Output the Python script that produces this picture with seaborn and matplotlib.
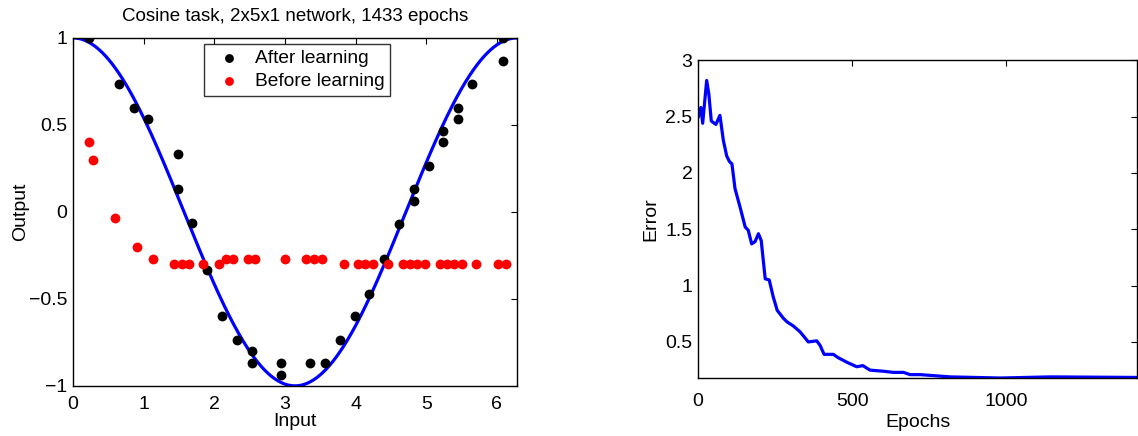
import numpy as np
import pandas as pd
import matplotlib
matplotlib.use("Agg")
import matplotlib.pyplot as plt
import seaborn as sns

# ---------------- data ----------------
after_x = [0.23, 0.65, 0.86, 1.06, 1.48, 1.48, 1.69, 1.89, 2.11, 2.32, 2.53, 2.53,
           2.95, 2.95, 3.36, 3.57, 3.78, 3.99, 4.19, 4.40, 4.61, 4.82, 4.82, 5.04,
           5.24, 5.24, 5.45, 5.45, 5.65, 6.08, 6.08]
after_y = [1.00, 0.734, 0.60, 0.533, 0.333, 0.132, -0.065, -0.333, -0.60, -0.736, -0.80, -0.87,
           -0.87, -0.935, -0.87, -0.87, -0.736, -0.60, -0.47, -0.268, -0.067, 0.132, 0.065, 0.266,
           0.466, 0.40, 0.60, 0.533, 0.736, 1.00, 0.868]

before_x = [0.23, 0.28, 0.60, 0.91, 1.13, 1.43, 1.54, 1.64, 1.84, 2.06, 2.16, 2.27,
            2.47, 2.58, 3.00, 3.30, 3.41, 3.52, 3.83, 4.04, 4.14, 4.25, 4.46, 4.67,
            4.77, 4.87, 4.98, 5.19, 5.29, 5.40, 5.50, 5.71, 6.01, 6.13]
before_y = [0.40, 0.30, -0.033, -0.20, -0.268, -0.30, -0.30, -0.30, -0.30, -0.30, -0.268, -0.268,
            -0.268, -0.268, -0.268, -0.268, -0.268, -0.268, -0.30, -0.30, -0.30, -0.30, -0.30, -0.30,
            -0.30, -0.30, -0.30, -0.30, -0.30, -0.30, -0.30, -0.30, -0.30, -0.30]

epochs = [0, 9, 15, 28, 35, 43, 58, 71, 82, 93, 102, 110, 120, 136, 153, 163, 174, 185,
          196, 205, 218, 231, 244, 257, 277, 288, 310, 331, 358, 385, 396, 409, 439, 455,
          483, 515, 535, 558, 602, 634, 667, 688, 721, 818, 981, 1143, 1433]
error = [2.49, 2.58, 2.44, 2.82, 2.70, 2.46, 2.43, 2.51, 2.29, 2.15, 2.10, 2.08, 1.86, 1.70,
         1.52, 1.49, 1.37, 1.39, 1.46, 1.40, 1.06, 1.05, 0.90, 0.78, 0.71, 0.68, 0.64, 0.59,
         0.50, 0.51, 0.47, 0.39, 0.39, 0.36, 0.32, 0.28, 0.29, 0.25, 0.24, 0.23, 0.23, 0.21,
         0.21, 0.19, 0.18, 0.19, 0.185]

title = "Cosine task, 2x5x1 network, 1433 epochs"

# ---------------- style ----------------
sns.set_style("white")
plt.rcParams['font.family'] = ['Liberation Sans', 'DejaVu Sans']
plt.rcParams['text.color'] = 'black'
plt.rcParams['axes.labelcolor'] = 'black'
plt.rcParams['xtick.color'] = 'black'
plt.rcParams['ytick.color'] = 'black'

fig = plt.figure(figsize=(11.38, 4.36), dpi=100)
ax1 = fig.add_axes([0.0642, 0.115, 0.390, 0.798])
ax2 = fig.add_axes([0.6134, 0.133, 0.3858, 0.729])

FS = 14

# cosine curve
xs = np.linspace(0, 2 * np.pi, 400)
sns.lineplot(x=xs, y=np.cos(xs), ax=ax1, color='#0000ff', lw=2.3, zorder=2)
sns.scatterplot(x=after_x, y=after_y, ax=ax1, color='black', s=50, linewidth=0,
                label='After learning', zorder=3)
sns.scatterplot(x=before_x, y=before_y, ax=ax1, color='#ff0000', s=50, linewidth=0,
                label='Before learning', zorder=3)
ax1.set_xlim(0, 2 * np.pi)
ax1.set_ylim(-1, 1)
ax1.set_xticks([0, 1, 2, 3, 4, 5, 6])
ax1.set_yticks([-1, -0.5, 0, 0.5, 1])
ax1.set_yticklabels(['\u22121', '\u22120.5', '0', '0.5', '1'])
ax1.set_xlabel('Input', fontsize=FS, labelpad=0)
ax1.set_ylabel('Output', fontsize=FS, labelpad=0)
ax1.set_title(title, fontsize=13.5, pad=12, color='black')
leg = ax1.legend(loc='upper left', bbox_to_anchor=(0.295, 0.983), fontsize=13.8,
                 frameon=True, fancybox=False, edgecolor='black', handletextpad=0.35,
                 borderpad=0.3, labelspacing=0.3, handlelength=2.0, borderaxespad=0,
                 markerscale=0.9)
leg.get_frame().set_linewidth(1.0)
for t in leg.get_texts():
    t.set_color('black')

sns.lineplot(x=epochs, y=error, ax=ax2, color='#0000ff', lw=2.3)
ax2.set_xlim(0, 1425)
ax2.set_ylim(0.18, 3)
ax2.set_xticks([0, 500, 1000])
ax2.set_yticks([0.5, 1, 1.5, 2, 2.5, 3])
ax2.set_yticklabels(['0.5', '1', '1.5', '2', '2.5', '3'])
ax2.set_xlabel('Epochs', fontsize=FS, labelpad=3)
ax2.set_ylabel('Error', fontsize=FS, labelpad=4)

for ax in (ax1, ax2):
    for sp in ax.spines.values():
        sp.set_visible(True)
        sp.set_color('black')
        sp.set_linewidth(1.0)
    ax.tick_params(axis='both', which='both', direction='in', length=4, width=0.8,
                   top=True, right=True, labelsize=FS, pad=4, colors='black')
    ax.tick_params(axis='x', pad=7)
ax2.tick_params(axis='x', pad=11)

fig.savefig('out.png', dpi=100, facecolor='white')
